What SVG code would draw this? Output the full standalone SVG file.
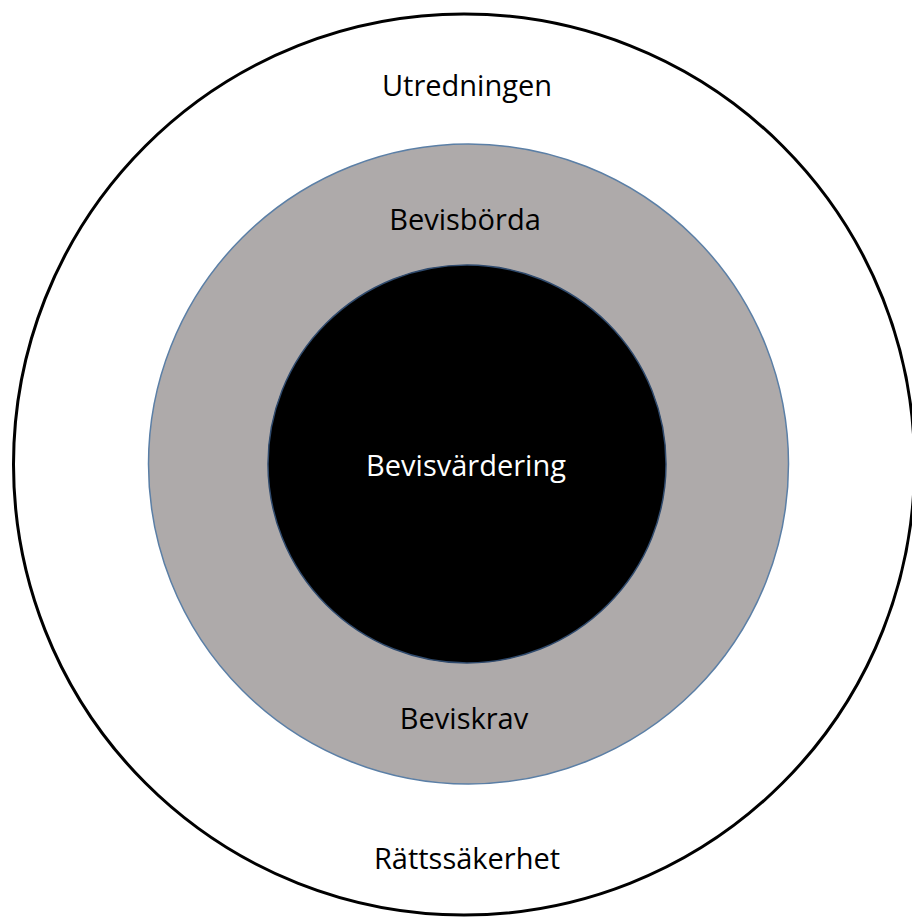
<svg xmlns="http://www.w3.org/2000/svg" width="912" height="918" viewBox="0 0 912 918">
<style>
text{font-family:"Open Sans","Liberation Sans",sans-serif;font-size:29px;text-anchor:middle}
.dark{fill:#000}
.light{fill:#fff}
</style>
<rect width="912" height="918" fill="#fff"/>
<g id="outer">
<circle cx="464" cy="464.5" r="450.5" fill="#fff" stroke="#000" stroke-width="3"/>
<text class="dark" x="467" y="96">Utredningen</text>
<text class="dark" x="467" y="869">Rättssäkerhet</text>
</g>
<g id="middle">
<circle cx="468.5" cy="464" r="320" fill="#aeaaaa" stroke="#5b7fa6" stroke-width="1.5"/>
<text class="dark" x="465" y="230">Bevisbörda</text>
<text class="dark" x="464" y="729">Beviskrav</text>
</g>
<g id="inner">
<circle cx="467" cy="464" r="199" fill="#000" stroke="#2f4a6d" stroke-width="1.5"/>
<text class="light" x="466" y="476">Bevisvärdering</text>
</g>
<g id="connectors"></g>
</svg>
